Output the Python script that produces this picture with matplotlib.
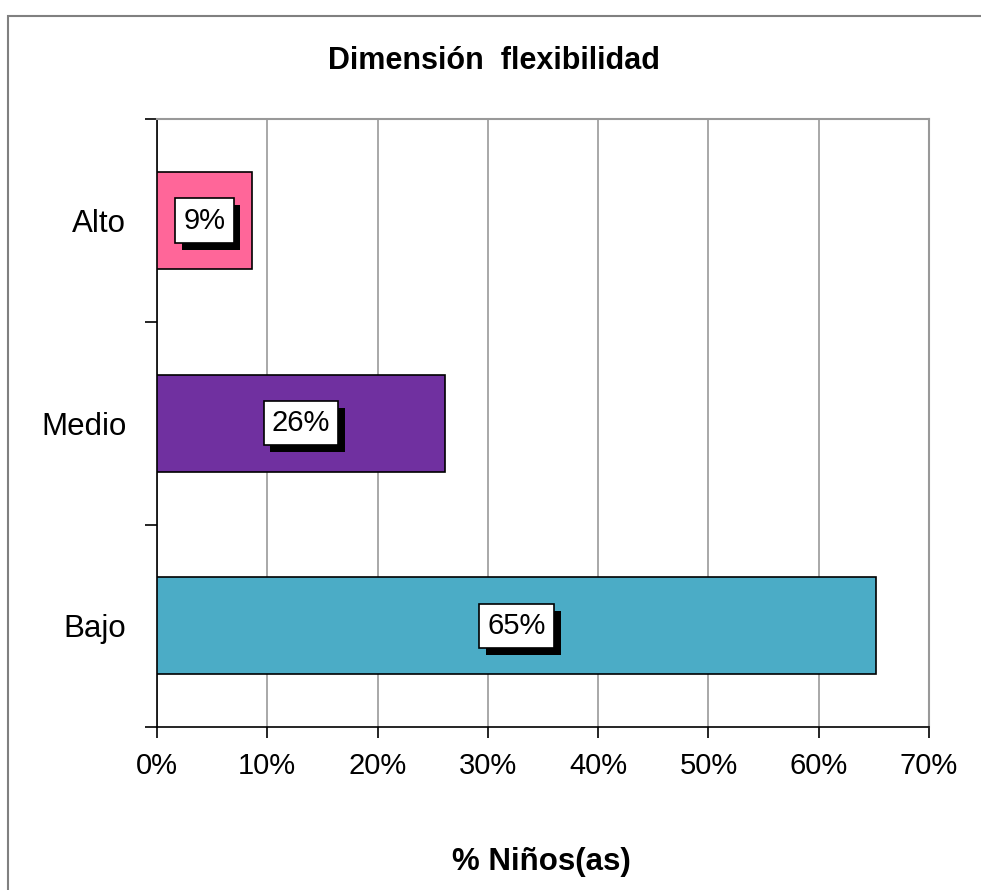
import matplotlib
matplotlib.use("Agg")
import matplotlib.pyplot as plt
import matplotlib.patheffects as pe
from matplotlib.patches import Rectangle
from matplotlib.ticker import FuncFormatter

plt.rcParams['font.family'] = ['Liberation Sans', 'DejaVu Sans']

# Datos de la dimensión
niveles = ['Bajo', 'Medio', 'Alto']
porcentajes = [65.2, 26.1, 8.6]
colores = ['#4BACC6', '#7030A0', '#FF6699']

fig = plt.figure(figsize=(9.81, 8.9), dpi=100)
ax = fig.add_axes([0.160, 0.183, 0.787, 0.683])

# Marco exterior del gráfico
fig.patches.append(Rectangle((8 / 981, -0.1), 1.1, 1.1 - 16 / 890,
                             transform=fig.transFigure, fill=False,
                             edgecolor='#808080', linewidth=1.5))

pos = range(len(niveles))
barras = ax.barh(pos, porcentajes, height=0.48, color=colores,
                 edgecolor='black', linewidth=1.2, zorder=3)

# Etiquetas con caja blanca y sombra
for b, v in zip(barras, porcentajes):
    t = ax.text(v / 2, b.get_y() + b.get_height() / 2, f'{v:.0f}%',
                ha='center', va='center', fontsize=21, zorder=5,
                bbox=dict(boxstyle='square,pad=0.28', facecolor='white',
                          edgecolor='black', linewidth=1.2))
    t.get_bbox_patch().set_path_effects([
        pe.SimplePatchShadow(offset=(5, -5), shadow_rgbFace='black', alpha=1),
        pe.Normal()])

ax.set_xlim(0, 70)
ax.set_ylim(-0.5, 2.5)
ax.set_xticks(range(0, 71, 10))
ax.xaxis.set_major_formatter(FuncFormatter(lambda x, p: f'{x:.0f}%'))
ax.set_yticks(list(pos))
ax.set_yticklabels(niveles)
ax.set_yticks([-0.5, 0.5, 1.5, 2.5], minor=True)
ax.tick_params(axis='y', which='major', length=0, pad=22, labelsize=22.5)
ax.tick_params(axis='y', which='minor', length=9, width=1.2, direction='out')
ax.tick_params(axis='x', length=8, width=1.2, direction='out', pad=10,
               labelsize=21)

ax.grid(axis='x', color='#999999', linewidth=1.2, zorder=0)
ax.set_axisbelow(True)
for lado in ['top', 'right']:
    ax.spines[lado].set_color('#999999')
    ax.spines[lado].set_linewidth(1.5)
for lado in ['left', 'bottom']:
    ax.spines[lado].set_color('black')
    ax.spines[lado].set_linewidth(1.2)

fig.text(0.504, 0.932, 'Dimensión  flexibilidad', ha='center', va='center',
         fontsize=22, fontweight='bold')
fig.text(0.552, 0.031, '% Niños(as)', ha='center', va='center',
         fontsize=22.5, fontweight='bold')

fig.savefig('out.png', dpi=100)
